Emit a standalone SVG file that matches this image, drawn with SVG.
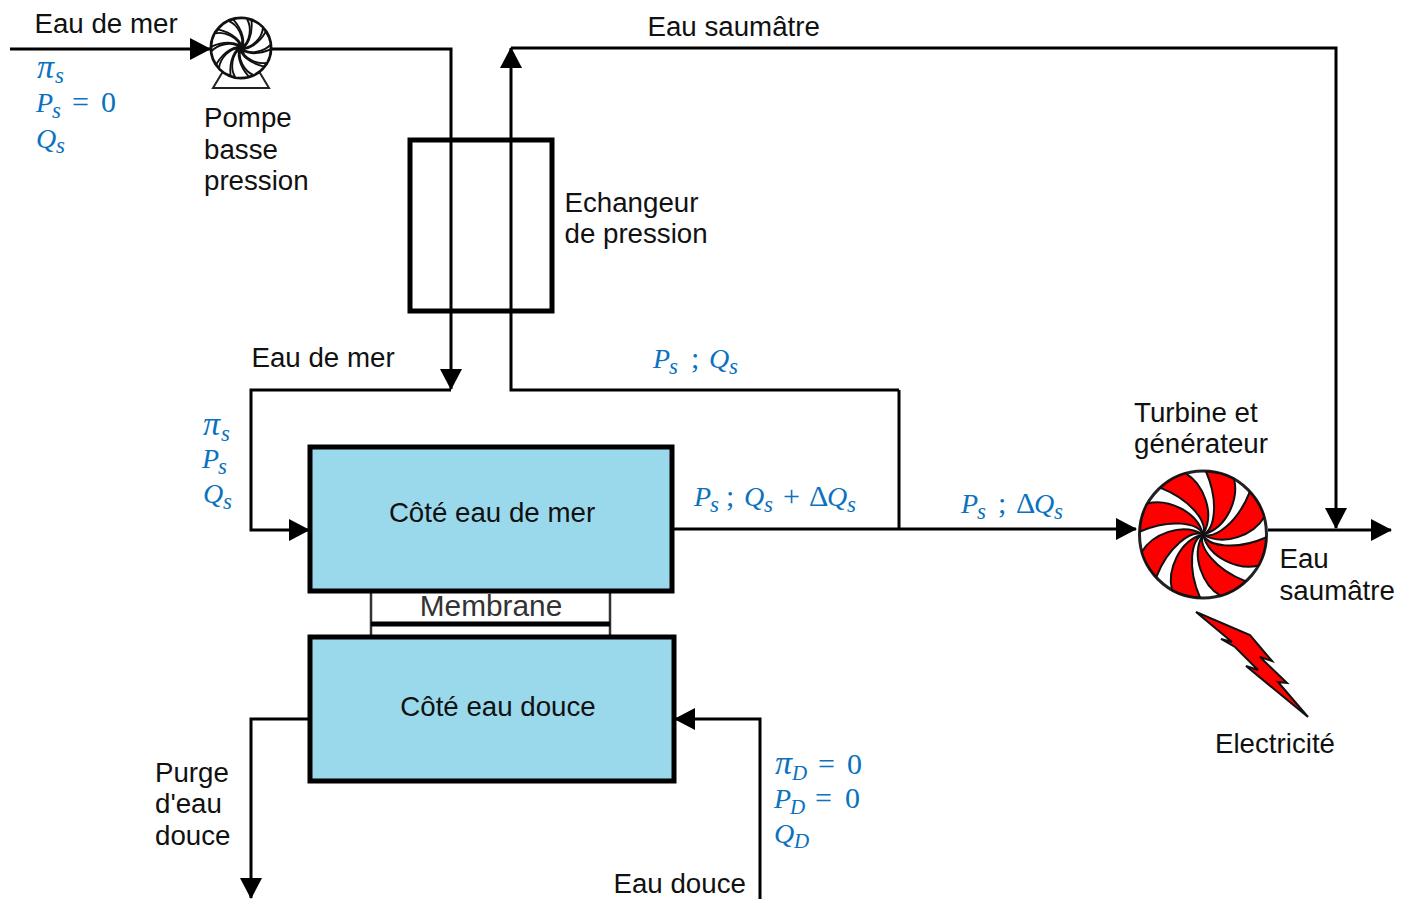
<svg xmlns="http://www.w3.org/2000/svg" xmlns:xlink="http://www.w3.org/1999/xlink" width="1411" height="899" viewBox="0 0 1411 899">
<style>
.t{font-family:"Liberation Sans",Arial,sans-serif;font-size:27.7px;fill:#111}
.m{font-family:"Liberation Serif","Times New Roman",serif;font-size:28px;font-style:italic;fill:#0b72c0}
.m .n{font-style:normal;font-size:30px}
.m .s{font-size:23px}
.m .d{font-size:21px}
.m .p{font-size:34px}
.l{fill:none;stroke:#000;stroke-width:3}
.box{fill:#9ad9ec;stroke:#000;stroke-width:5}
</style>
<defs>
<marker id="a" markerUnits="userSpaceOnUse" markerWidth="24" markerHeight="24" refX="20" refY="11" orient="auto"><path d="M0 0L21 11L0 22Z" fill="#000"/></marker>
<path id="blade" d="M0 0C5 12 33 16 63 3A63.5 63.5 0 0 1 55.5 31C36 36 6 24 0 0Z"/>
</defs>
<rect width="1411" height="899" fill="#fff"/>
<g id="connectors" class="l">
<path d="M10 49H210" marker-end="url(#a)"/>
<path d="M271 49H451V389" marker-end="url(#a)"/>
<path d="M451 390H251V530H309" marker-end="url(#a)"/>
<path d="M899 390H511V48" marker-end="url(#a)"/>
<path d="M511 48H1336V528" marker-end="url(#a)"/>
<path d="M672 529H1136" marker-end="url(#a)"/>
<path d="M899 390V529"/>
<path d="M1268 530H1391" marker-end="url(#a)"/>
<path d="M309 719H251V898" marker-end="url(#a)"/>
<path d="M760 899V719H675" marker-end="url(#a)"/>
</g>
<g id="pump">
<path d="M213 88L225 68H257L269 88Z" fill="#fff" stroke="#222" stroke-width="2"/>
<circle cx="241" cy="48" r="30" fill="#fff" stroke="#111" stroke-width="3"/>
<g fill="#fff" stroke="#111" stroke-width="4" transform="translate(241 48) scale(.47)">
<use xlink:href="#blade"/><use xlink:href="#blade" transform="rotate(36)"/><use xlink:href="#blade" transform="rotate(72)"/><use xlink:href="#blade" transform="rotate(108)"/><use xlink:href="#blade" transform="rotate(144)"/><use xlink:href="#blade" transform="rotate(180)"/><use xlink:href="#blade" transform="rotate(216)"/><use xlink:href="#blade" transform="rotate(252)"/><use xlink:href="#blade" transform="rotate(288)"/><use xlink:href="#blade" transform="rotate(324)"/>
</g>
<text class="t"><tspan x="204" y="127">Pompe</tspan><tspan x="204" y="159">basse</tspan><tspan x="204" y="190">pression</tspan></text>
</g>
<g id="exchanger">
<rect x="410" y="140" width="142" height="171" fill="none" stroke="#000" stroke-width="5"/>
<text class="t"><tspan x="564.5" y="212">Echangeur</tspan><tspan x="564.5" y="243">de pression</tspan></text>
</g>
<g id="membrane">
<rect x="371" y="590" width="239" height="48" fill="#fff" stroke="#333" stroke-width="2.5"/>
<path d="M371 624H610" stroke="#000" stroke-width="5"/>
<text class="t" x="491" y="616" text-anchor="middle" style="fill:#333;font-size:29.8px">Membrane</text>
</g>
<g id="sea-side">
<rect class="box" x="310" y="447" width="362" height="144"/>
<text class="t" x="492" y="522" text-anchor="middle">Côté eau de mer</text>
</g>
<g id="fresh-side">
<rect class="box" x="310" y="637" width="364" height="144"/>
<text class="t" x="498" y="716" text-anchor="middle">Côté eau douce</text>
</g>
<g id="turbine">
<circle cx="1203" cy="534.5" r="63.5" fill="#fff" stroke="#222" stroke-width="3"/>
<g fill="#f00" stroke="#111" stroke-width="2" transform="translate(1203 534.5)">
<use xlink:href="#blade"/><use xlink:href="#blade" transform="rotate(45)"/><use xlink:href="#blade" transform="rotate(90)"/><use xlink:href="#blade" transform="rotate(135)"/><use xlink:href="#blade" transform="rotate(180)"/><use xlink:href="#blade" transform="rotate(225)"/><use xlink:href="#blade" transform="rotate(270)"/><use xlink:href="#blade" transform="rotate(315)"/>
</g>
<text class="t"><tspan x="1134" y="422">Turbine et</tspan><tspan x="1134" y="453">générateur</tspan></text>
</g>
<g id="lightning">
<path d="M1196 612L1250 635L1272 661L1260 657L1287 683L1278 682L1308 717L1246 666L1258 670L1235 647L1221 639L1232 642Z" fill="#f00" stroke="#111" stroke-width="2"/>
<text class="t" x="1215" y="753">Electricité</text>
</g>
<g id="labels">
<text class="t" x="34.5" y="33">Eau de mer</text>
<text class="t" x="647.5" y="36">Eau saumâtre</text>
<text class="t" x="251.5" y="367">Eau de mer</text>
<text class="t"><tspan x="1279.5" y="568">Eau</tspan><tspan x="1279.5" y="600">saumâtre</tspan></text>
<text class="t"><tspan x="155" y="782">Purge</tspan><tspan x="155" y="813">d'eau</tspan><tspan x="155" y="845">douce</tspan></text>
<text class="t" x="613.5" y="893">Eau douce</text>
<text class="m"><tspan class="p" x="37" y="78">π</tspan><tspan class="s" x="55" y="83">s</tspan></text>
<text class="m"><tspan x="36" y="112">P</tspan><tspan class="s" x="52" y="118">s</tspan><tspan class="n" x="72" y="112">=</tspan><tspan class="n" x="101" y="112">0</tspan></text>
<text class="m"><tspan x="36" y="148">Q</tspan><tspan class="s" x="56" y="153">s</tspan></text>
<text class="m"><tspan class="p" x="203" y="435">π</tspan><tspan class="s" x="221" y="441">s</tspan></text>
<text class="m"><tspan x="202" y="468">P</tspan><tspan class="s" x="218" y="474">s</tspan></text>
<text class="m"><tspan x="203" y="503">Q</tspan><tspan class="s" x="223" y="509">s</tspan></text>
<text class="m"><tspan x="653" y="368">P</tspan><tspan class="s" x="669" y="374">s</tspan><tspan class="n" x="691" y="368">;</tspan><tspan x="709" y="368">Q</tspan><tspan class="s" x="729" y="374">s</tspan></text>
<text class="m"><tspan x="694" y="506">P</tspan><tspan class="s" x="710" y="512">s</tspan><tspan class="n" x="726" y="506">;</tspan><tspan x="744" y="506">Q</tspan><tspan class="s" x="764" y="512">s</tspan><tspan class="n" x="783" y="506">+</tspan><tspan class="n" x="809" y="506">Δ</tspan><tspan x="827" y="506">Q</tspan><tspan class="s" x="847" y="512">s</tspan></text>
<text class="m"><tspan x="961" y="513">P</tspan><tspan class="s" x="977" y="519">s</tspan><tspan class="n" x="998" y="513">;</tspan><tspan class="n" x="1016" y="513">Δ</tspan><tspan x="1034" y="513">Q</tspan><tspan class="s" x="1054" y="519">s</tspan></text>
<text class="m"><tspan class="p" x="775" y="774">π</tspan><tspan class="d" x="792" y="780">D</tspan><tspan class="n" x="818" y="774">=</tspan><tspan class="n" x="847" y="774">0</tspan></text>
<text class="m"><tspan x="774" y="808">P</tspan><tspan class="d" x="790" y="814">D</tspan><tspan class="n" x="815" y="808">=</tspan><tspan class="n" x="845" y="808">0</tspan></text>
<text class="m"><tspan x="774" y="843">Q</tspan><tspan class="d" x="794" y="848">D</tspan></text>
</g>
</svg>
